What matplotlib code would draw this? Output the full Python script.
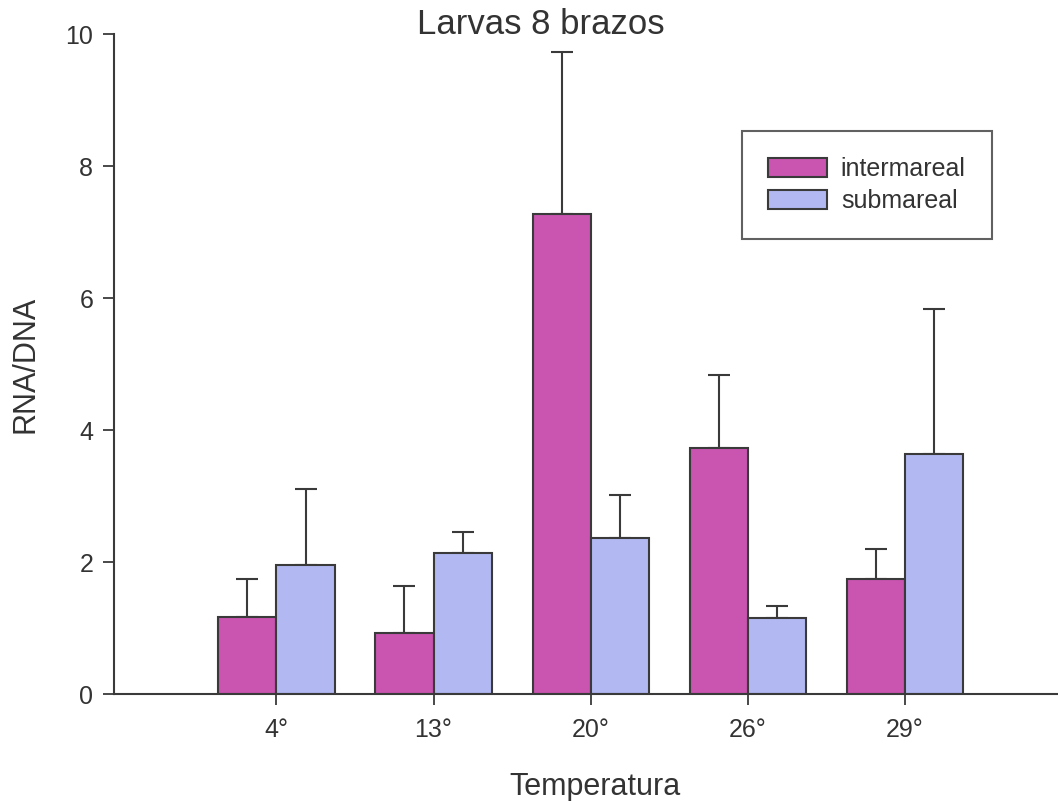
from matplotlib import pyplot as plt
import numpy as np

plt.rcParams["font.family"] = ["Liberation Sans", "DejaVu Sans"]

temps = ["4°", "13°", "20°", "26°", "29°"]
inter_mean = [1.17, 0.93, 7.27, 3.72, 1.75]
inter_top = [1.74, 1.64, 9.72, 4.84, 2.20]
sub_mean = [1.96, 2.13, 2.36, 1.15, 3.64]
sub_top = [3.10, 2.46, 3.01, 1.33, 5.84]

inter_err = np.array(inter_top) - np.array(inter_mean)
sub_err = np.array(sub_top) - np.array(sub_mean)

x = np.arange(len(temps))
w = 0.37
edge = "#3a3a3a"
txt = "#333333"

W, H = 1058, 801
fig = plt.figure(figsize=(W / 100, H / 100), dpi=100)
ax = fig.add_axes([114 / W, 1 - 694 / H, 1 - 114 / W, (694 - 34) / H])

ax.bar(x - w / 2, inter_mean, w, color="#C955B0", edgecolor=edge, linewidth=1.5,
       label="intermareal", zorder=2)
ax.bar(x + w / 2, sub_mean, w, color="#B2B9F2", edgecolor=edge, linewidth=1.5,
       label="submareal", zorder=2)
ax.errorbar(x - w / 2, inter_mean, yerr=[np.zeros(len(x)), inter_err], fmt="none",
            ecolor=edge, elinewidth=1.5, capsize=8, capthick=1.5, zorder=1)
ax.errorbar(x + w / 2, sub_mean, yerr=[np.zeros(len(x)), sub_err], fmt="none",
            ecolor=edge, elinewidth=1.5, capsize=8, capthick=1.5, zorder=1)

ax.set_xlim(-1.034, 4.975)
ax.set_ylim(0, 10)
ax.set_yticks([0, 2, 4, 6, 8, 10])
ax.set_xticks(x)
ax.set_xticklabels(temps)
ax.tick_params(axis="both", direction="out", length=8, width=1.3, colors=edge,
               labelcolor=txt, labelsize=18)
ax.tick_params(axis="x", pad=9)
ax.tick_params(axis="y", pad=7)
ax.spines["top"].set_visible(False)
ax.spines["right"].set_visible(False)
for s in ["left", "bottom"]:
    ax.spines[s].set_linewidth(1.5)
    ax.spines[s].set_color(edge)

fig.text(541 / W, 1 - 24 / H, "Larvas 8 brazos", fontsize=25, color=txt,
         ha="center", va="center")
fig.text(26 / W, 1 - 364 / H, "RNA/DNA", fontsize=22, color=txt,
         ha="center", va="center", rotation=90)
fig.text(595 / W, 1 - 795 / H, "Temperatura", fontsize=22, color=txt,
         ha="center", va="baseline")

leg = ax.legend(loc="upper right", bbox_to_anchor=(992 / W, 1 - 131 / H),
                bbox_transform=fig.transFigure, fontsize=18,
                frameon=True, fancybox=False, handlelength=2.36, handleheight=0.8,
                borderpad=1.05, labelspacing=0.3, handletextpad=0.55, borderaxespad=0)
leg.get_frame().set_edgecolor(edge)
leg.get_frame().set_linewidth(1.5)
for t in leg.get_texts():
    t.set_color(txt)

fig.savefig("out.png", dpi=100)
